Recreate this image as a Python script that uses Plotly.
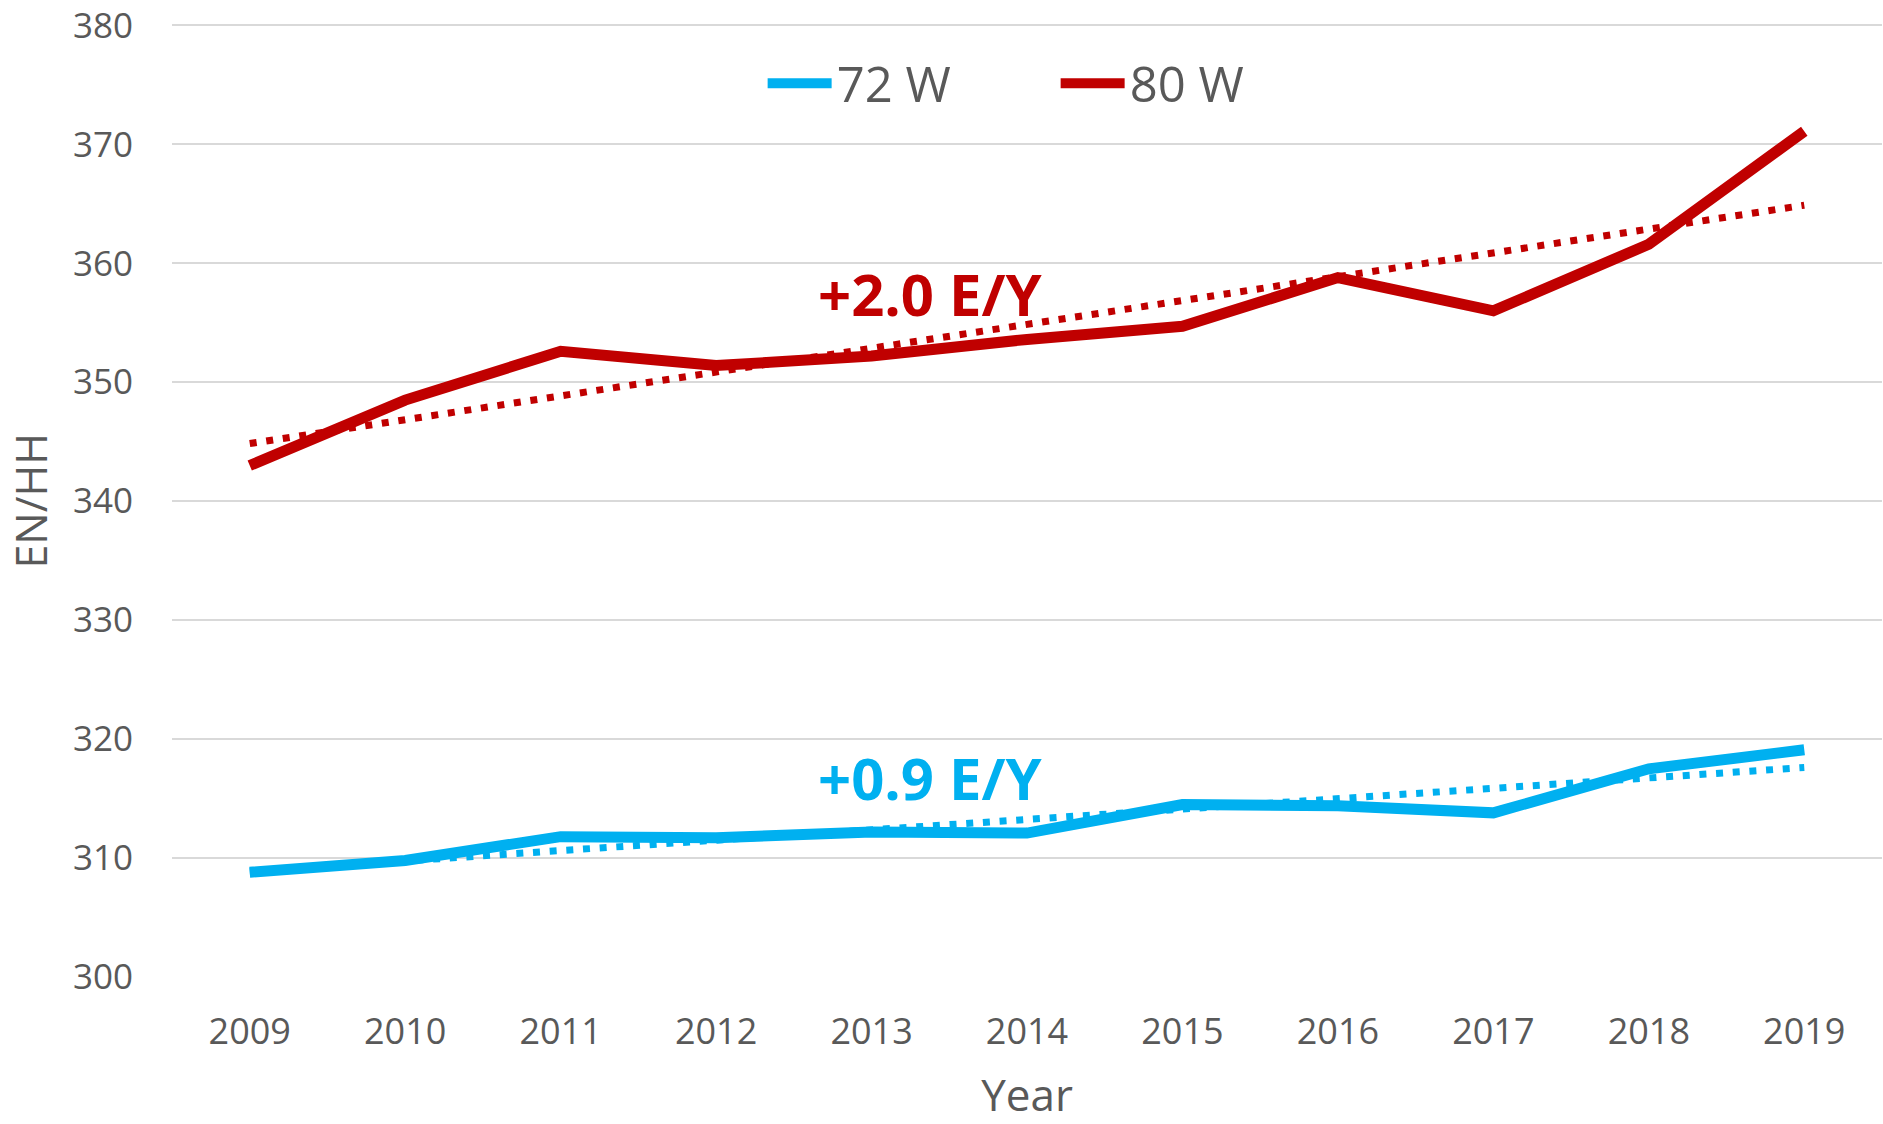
import numpy as np
import plotly.graph_objects as go

years = ["2009", "2010", "2011", "2012", "2013", "2014", "2015", "2016", "2017", "2018", "2019"]
w72 = [308.8, 309.8, 311.8, 311.7, 312.2, 312.1, 314.5, 314.4, 313.8, 317.5, 319.1]
w80 = [343.0, 348.5, 352.6, 351.4, 352.2, 353.6, 354.7, 358.8, 356.0, 361.6, 371.1]
y_ticks = [300, 310, 320, 330, 340, 350, 360, 370, 380]

BLUE = "#00B0F0"
RED = "#C00000"
GRAY = "#595959"
FONT = "Open Sans"


def trend(vals):
    x = np.arange(len(vals))
    k, b = np.polyfit(x, vals, 1)
    return list(k * x + b), k


t72, k72 = trend(w72)
t80, k80 = trend(w80)

fig = go.Figure()
fig.add_trace(go.Scatter(x=years, y=t72, mode="lines", showlegend=False, hoverinfo="skip",
                         line=dict(color=BLUE, width=7, dash="7px,9.7px")))
fig.add_trace(go.Scatter(x=years, y=t80, mode="lines", showlegend=False, hoverinfo="skip",
                         line=dict(color=RED, width=7, dash="7px,9.7px")))
fig.add_trace(go.Scatter(x=years, y=w72, mode="lines", name="72 W",
                         line=dict(color=BLUE, width=11)))
fig.add_trace(go.Scatter(x=years, y=w80, mode="lines", name="80 W",
                         line=dict(color=RED, width=11)))

fig.add_annotation(x=4.38, y=357.5, xref="x", yref="y", text=f"<b>+{k80:.1f} E/Y</b>",
                   showarrow=False, font=dict(family=FONT, size=58, color=RED))
fig.add_annotation(x=4.38, y=316.8, xref="x", yref="y", text=f"<b>+{k72:.1f} E/Y</b>",
                   showarrow=False, font=dict(family=FONT, size=58, color=BLUE))
# y-axis title
fig.add_annotation(x=-0.0830, y=0.4984, xref="paper", yref="paper", text="EN/HH",
                   textangle=-90, showarrow=False, xanchor="center", yanchor="middle",
                   font=dict(family=FONT, size=43, color=GRAY))

fig.update_layout(
    width=1883, height=1124,
    margin=dict(l=172, r=1, t=23, b=147, autoexpand=False),
    paper_bgcolor="white", plot_bgcolor="white",
    font=dict(family=FONT, color=GRAY),
    showlegend=True,
    legend=dict(orientation="h", x=0.3454, xanchor="left", y=0.9368, yanchor="middle",
                font=dict(family=FONT, size=49, color=GRAY),
                itemwidth=64, entrywidth=214, entrywidthmode="pixels",
                bgcolor="rgba(0,0,0,0)", traceorder="normal"),
    xaxis=dict(type="category", range=[-0.5, 10.5], showgrid=False, zeroline=False,
               showline=False, ticks="", tickfont=dict(family=FONT, size=36, color=GRAY),
               ticklabelstandoff=30, automargin=False,
               title=dict(text="Year", font=dict(family=FONT, size=44, color=GRAY), standoff=30)),
    yaxis=dict(range=[300, 380.2], tickvals=y_ticks, showgrid=True, gridcolor="#D9D9D9",
               gridwidth=2, zeroline=False, showline=False, ticks="",
               tickfont=dict(family=FONT, size=35, color=GRAY), ticklabelstandoff=38,
               ticklabeloverflow="allow", automargin=False),
)

fig.write_html("out.html", config={"displayModeBar": False},
               post_script="document.body.style.margin='0';document.body.style.overflow='hidden';")
